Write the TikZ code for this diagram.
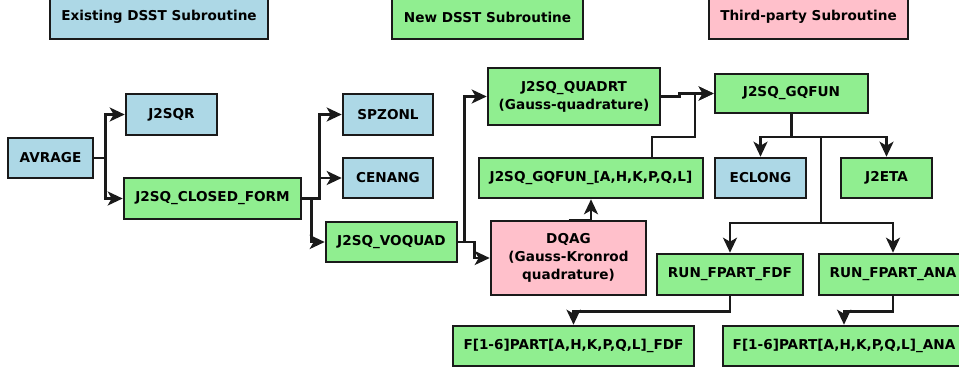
\documentclass[tikz,border=0pt]{standalone}
\usepackage{fontspec}
\setmainfont{DejaVu Sans}
\usepackage{tikz}
\usetikzlibrary{arrows.meta}

\definecolor{oldsub}{HTML}{ADD8E6}
\definecolor{newsub}{HTML}{90EE90}
\definecolor{extsub}{HTML}{FFC0CB}
\definecolor{edgecol}{HTML}{1A1A1A}

\tikzset{
  subbox/.style={draw=edgecol, line width=2.6pt, font=\bfseries\fontsize{13.6}{18}\selectfont,
    align=center, inner sep=0pt, minimum height=40pt},
  oldbox/.style={subbox, fill=oldsub},
  newbox/.style={subbox, fill=newsub},
  extbox/.style={subbox, fill=extsub},
  call/.style={draw=edgecol, line width=2.4pt,
    -{Stealth[length=15pt,width=14pt,inset=4pt]}}
}

\begin{document}
\begin{tikzpicture}[x=1pt,y=-1pt]
        \useasboundingbox (0,0) rectangle (959,372);

        % legend
        \node[oldbox, minimum width=218pt, minimum height=44pt] (legold) at (159, 17) {Existing DSST Subroutine};
        \node[newbox, minimum width=191pt, minimum height=44pt] (legnew) at (487.5, 17) {New DSST Subroutine};
        \node[extbox, minimum width=199pt, minimum height=44pt] (legext) at (808.5, 17) {Third-party Subroutine};

        % subroutines
        \node[oldbox, minimum width=85pt] (AVRAGE) at (50.5, 158) {AVRAGE};
        \node[oldbox, minimum width=91pt, minimum height=41pt] (J2SQR) at (171.5, 114.5) {J2SQR};
        \node[newbox, minimum width=177pt, minimum height=41pt] (CLOSED) at (212.5, 198.5) {J2SQ\_CLOSED\_FORM};
        \node[oldbox, minimum width=90pt, minimum height=41pt] (SPZONL) at (388, 114.5) {SPZONL};
        \node[oldbox, minimum width=90pt] (CENANG) at (388, 178) {CENANG};
        \node[newbox, minimum width=131pt] (VOQUAD) at (391.5, 242) {J2SQ\_VOQUAD};

        \node[newbox, minimum width=172pt, minimum height=57pt] (QUADRT) at (574, 96.5) {J2SQ\_QUADRT\\(Gauss-quadrature)};
        \node[newbox, minimum width=224pt] (GQFUNX) at (591, 178) {J2SQ\_GQFUN\_[A,H,K,P,Q,L]};
        \node[extbox, minimum width=155pt, minimum height=74pt] (DQAG) at (568.5, 258) {DQAG\\(Gauss-Kronrod\\quadrature)};

        \node[newbox, minimum width=153pt, minimum height=39pt] (GQFUN) at (791.5, 93.5) {J2SQ\_GQFUN};
        \node[oldbox, minimum width=91pt] (ECLONG) at (760.5, 178) {ECLONG};
        \node[newbox, minimum width=91pt] (J2ETA) at (886.5, 178) {J2ETA};

        \node[newbox, minimum width=146pt, minimum height=41pt] (RUNFDF) at (730, 274.5) {RUN\_FPART\_FDF};
        \node[newbox, minimum width=148pt, minimum height=41pt] (RUNANA) at (893, 274.5) {RUN\_FPART\_ANA};
        \node[newbox, minimum width=241pt] (FFDF) at (573.5, 346) {F[1-6]PART[A,H,K,P,Q,L]\_FDF};
        \node[newbox, minimum width=242pt] (FANA) at (844, 346) {F[1-6]PART[A,H,K,P,Q,L]\_ANA};

        \coordinate (Jgq) at (695, 137);
        \coordinate (Jtop) at (821, 137);
        \coordinate (Jrun) at (821, 223);

        \draw[call] (AVRAGE.east) -- ++(11,0) |- (J2SQR);
        \draw[call] (AVRAGE.east) -- ++(11,0) |- (CLOSED);

        \draw[call] (CLOSED.east) -- ++(17,0) |- (SPZONL);
        \draw[call] (CLOSED.east) -- ++(17,0) |- (CENANG);
        \draw[call] (CLOSED.east) -- ++(9,0) |- (VOQUAD);

        \draw[call] (VOQUAD.east) -- ++(6,0) |- (QUADRT);
        \draw[call] (VOQUAD.east) -- ++(16,0) |- (DQAG);

        \draw[call] (QUADRT.east) -- ++(18,0) |- (GQFUN);
        \draw[call] ([xshift=61pt]GQFUNX.north) |- (Jgq) |- (GQFUN);
        \draw[call] (DQAG.north) -| (GQFUNX.south);

        \draw[call] (GQFUN.south) |- (Jtop) -| (ECLONG);
        \draw[call] (GQFUN.south) |- (Jtop) -| (J2ETA);
        \draw[call] (Jtop) -- (Jrun) -| (RUNFDF);
        \draw[call] (Jrun) -| (RUNANA);

        \draw[call] (RUNFDF.south) -- ++(0,15) -| (FFDF);
        \draw[call] (RUNANA.south) -- ++(0,15) -| (FANA);

      \end{tikzpicture}
\end{document}
